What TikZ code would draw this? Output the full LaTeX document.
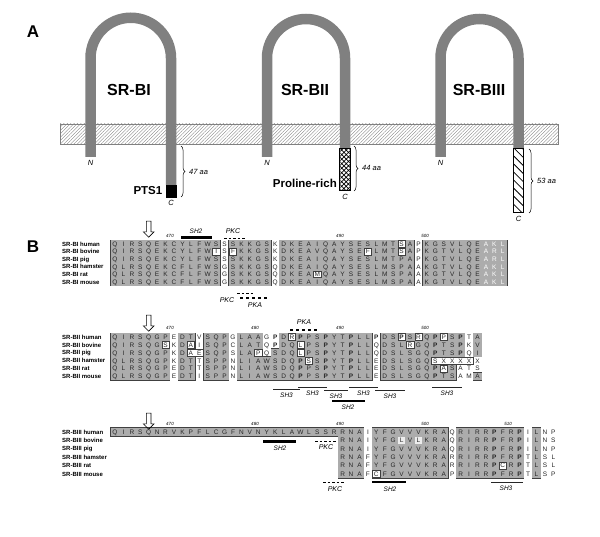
\documentclass[tikz,border=0pt]{standalone}
\usepackage{fontspec}
\setmainfont{Liberation Sans}
\usepackage{xcolor}
\usepackage{tikz}
\usetikzlibrary{positioning, patterns.meta, decorations.pathreplacing, shapes.arrows}

% one aligned row: name prefix, y, first column, residues
\newcommand{\seqrow}[4]{%
  \foreach \aa [count=\i from #3] in {#4}
    \node[res] (#1-\i) at ({106.57+8.43*\i}, #2) {\aa};}
% shaded blocks: y0, row step, list of col/col/row/row
\newcommand{\shadeblk}[3]{%
  \foreach \ca/\cb/\ra/\rb in {#3}
    \draw[blkline] ({102.36+8.43*\ca}, {#1+(\ra-1.5)*#2}) rectangle ({110.78+8.43*\cb}, {#1+(\rb-0.5)*#2});
  \foreach \ca/\cb/\ra/\rb in {#3}
    \fill[blkfill] ({102.36+8.43*\ca}, {#1+(\ra-1.5)*#2}) rectangle ({110.78+8.43*\cb}, {#1+(\rb-0.5)*#2});}
% boxed residues: y0, row step, list of col/col/row
\newcommand{\whitecells}[3]{%
  \foreach \ca/\cb/\ra in {#3}
    \draw[wbox] ({102.86+8.43*\ca}, {#1+(\ra-1.5)*#2+0.5}) rectangle ({110.28+8.43*\cb}, {#1+(\ra-0.5)*#2-0.5});}
\newcommand{\bP}{\textbf{P}}
\newcommand{\wt}[1]{\textcolor{white}{#1}}

\begin{document}
\begin{tikzpicture}[x=1pt, y=-1pt,
  every node/.style={inner sep=0pt},
  res/.style={font=\fontsize{6.5}{7}\selectfont, text=black!85, text height=4.6pt, text depth=0pt},
  lab/.style={font=\fontsize{6}{7}\selectfont\bfseries, anchor=west, text height=4.3pt, text depth=0pt},
  big/.style={font=\fontsize{16}{18}\selectfont\bfseries},
  panel/.style={font=\fontsize{17}{19}\selectfont\bfseries},
  tag/.style={font=\fontsize{11.5}{13}\selectfont\bfseries},
  it/.style={font=\fontsize{7.5}{9}\selectfont\itshape},
  num/.style={font=\fontsize{4.5}{5}\selectfont\itshape},
  site/.style={font=\fontsize{7}{8}\selectfont\itshape},
  dom/.style={font=\fontsize{6.5}{7}\selectfont\itshape},
  hairpin/.style={draw=gray, line width=10.5pt},
  tailbox/.style={draw, line width=1pt, minimum width=10.5pt},
  bracel/.style={decorate, decoration={brace, amplitude=4pt}, line width=0.5pt},
  hollow/.style={single arrow, draw, line width=0.6pt, minimum height=16pt, minimum width=10pt, single arrow head extend=3pt, inner sep=2pt, rotate=-90},
  blkline/.style={draw=black!75, line width=0.9pt},
  blkfill/.style={fill=gray!65},
  wbox/.style={draw=black!75, fill=white, line width=0.5pt},
  thickbar/.style={line width=2.2pt},
  thinbar/.style={line width=0.9pt, black!85},
  pkc/.style={line width=0.9pt, dash pattern=on 2.5pt off 2pt},
  pka/.style={line width=2.2pt, dash pattern=on 3pt off 3pt}
]
  \useasboundingbox (0,0) rectangle (600,537);

  % ---- A: membrane topology
  \node[panel] (pA) at (33,32) {A};
  \fill[pattern={Lines[angle=45, distance=2.4pt, line width=0.35pt]}, pattern color=gray] (60,124) rectangle (558,144);
  \draw[gray, line width=0.4pt] (60,124) rectangle (558,144);

  \draw[hairpin] (90.5,157) -- (90.5,58) arc[start angle=180, end angle=360, radius=40.25] -- (171,185);
  \draw[hairpin] (267,157) -- (267,58) arc[start angle=180, end angle=360, radius=39] -- (345,149);
  \draw[hairpin] (440.5,157) -- (440.5,58) arc[start angle=180, end angle=360, radius=39] -- (518.5,149);

  \node[big] (lblI) at (129,90) {SR-BI};
  \node[big] (lblII) at (305,90) {SR-BII};
  \node[big] (lblIII) at (479,90) {SR-BIII};

  \node[tailbox, fill=black, line width=0.5pt, minimum height=12pt] (pts1box) at (171,191) {};
  \node[tailbox, minimum height=42pt, pattern={Hatch[angle=45, distance=3.2pt, line width=0.7pt]}] (prbox) at (345,170) {};
  \node[tailbox, minimum height=64pt, pattern={Lines[angle=-45, distance=5.7pt, line width=0.8pt]}] (hatbox) at (518.5,181) {};

  \node[tag, left=3pt of pts1box] (pts) {PTS1};
  \node[tag, anchor=east] (prl) at (337,183) {Proline-rich};

  \node[it] (nI) at (90.5,163) {N};
  \node[it] (nII) at (267,163) {N};
  \node[it] (nIII) at (440.5,163) {N};
  \node[it, below=3pt of pts1box] (cI) {C};
  \node[it, below=3pt of prbox] (cII) {C};
  \node[it, below=3pt of hatbox] (cIII) {C};

  \draw[bracel] (181,146) -- (181,197);
  \draw[bracel] (354,146) -- (354,191);
  \draw[bracel] (529,149) -- (529,213);
  \node[it, anchor=west] (aaI) at (189,172) {47 aa};
  \node[it, anchor=west] (aaII) at (362,168) {44 aa};
  \node[it, anchor=west] (aaIII) at (537,181) {53 aa};

  % ---- B: SR-BI alignment
  \node[panel] (pB) at (33,247) {B};
  \shadeblk{244}{7.6}{1/13/1/6, 15/19/1/6, 21/36/1/6, 38/47/1/6}
  \whitecells{244}{7.6}{13/13/2, 15/15/2, 25/25/5, 31/31/2, 35/35/1, 35/35/2}
  \foreach \sp [count=\r] in {human,bovine,pig,hamster,rat,mouse}
    \node[lab] (nmI-\r) at (62, {244+(\r-1)*7.6}) {SR-BI \sp};
  \seqrow{bi1}{244}{1}{Q,I,R,S,Q,E,K,C,Y,L,F,W,S,S,S,K,K,G,S,K,D,K,E,A,I,Q,A,Y,S,E,S,L,M,T,S,A,P,K,G,S,V,L,Q,E,\wt{A},\wt{K},\wt{L}}
  \seqrow{bi2}{251.6}{1}{Q,I,R,S,Q,E,K,C,Y,L,F,W,I,S,F,K,K,G,S,K,D,K,E,A,V,Q,A,Y,S,E,F,L,M,T,S,A,P,K,G,T,V,L,Q,E,\wt{A},\wt{R},\wt{L}}
  \seqrow{bi3}{259.2}{1}{Q,I,R,S,Q,E,K,C,Y,L,F,W,S,S,S,K,K,G,S,K,D,K,E,A,I,Q,A,Y,S,E,S,L,M,T,P,A,P,K,G,T,V,L,Q,E,\wt{A},\wt{R},\wt{L}}
  \seqrow{bi4}{266.8}{1}{Q,L,R,S,Q,E,K,C,F,L,F,W,S,G,S,K,K,G,S,Q,D,K,E,A,I,Q,A,Y,S,E,S,L,M,S,P,A,A,K,G,T,V,L,Q,E,\wt{A},\wt{K},\wt{L}}
  \seqrow{bi5}{274.4}{1}{Q,L,R,S,Q,E,K,C,F,L,F,W,S,G,S,K,K,G,S,Q,D,K,E,A,M,Q,A,Y,S,E,S,L,M,S,P,A,A,K,G,T,V,L,Q,E,\wt{A},\wt{K},\wt{L}}
  \seqrow{bi6}{282}{1}{Q,L,R,S,Q,E,K,C,F,L,F,W,S,G,S,K,K,G,S,Q,D,K,E,A,I,Q,A,Y,S,E,S,L,M,S,P,A,A,K,G,T,V,L,Q,E,\wt{A},\wt{K},\wt{L}}

  \node[hollow] (arrI) at (148.7,228) {};
  \foreach \x/\n in {170/470, 340/490, 425/500}
    \node[num] (nbI-\n) at (\x,236) {\n};
  \draw[thickbar] (181,237.5) -- (212,237.5);
  \node[dom] (sh2I) at (196,231) {SH2};
  \draw[pkc] (224,238) -- (245,238);
  \node[site] (pkcIa) at (233,231.5) {PKC};
  \draw[pkc] (237,293) -- (254,293);
  \draw[pka] (240,298) -- (268,298);
  \node[site] (pkcIb) at (227,300) {PKC};
  \node[site] (pkaI) at (255,305) {PKA};

  % ---- SR-BII alignment
  \shadeblk{337}{7.9}{1/7/1/6, 9/10/1/6, 12/14/1/6, 16/18/1/6, 19/19/4/6, 20/20/3/6, 21/31/1/6, 33/42/1/3, 33/41/4/6, 44/44/1/3, 44/44/6/6}
  \whitecells{337}{7.9}{7/7/2, 10/10/2, 10/11/3, 18/18/3, 22/22/1, 23/23/2, 23/23/3, 24/24/4, 35/35/1, 37/37/1, 40/40/1, 36/36/2, 39/43/4, 40/40/5}
  \foreach \sp [count=\r] in {human,bovine,pig,hamster,rat,mouse}
    \node[lab] (nmII-\r) at (62, {337+(\r-1)*7.9}) {SR-BII \sp};
  \seqrow{bii1}{337}{1}{Q,I,R,S,Q,G,P,E,D,T,V,S,Q,P,G,L,A,A,G,\bP,D,R,\bP,P,S,\bP,Y,T,\bP,L,L,\bP,D,S,\bP,S,R,Q,\bP,P,S,\bP,T,A}
  \seqrow{bii2}{344.9}{1}{Q,I,R,S,Q,G,S,K,D,A,I,S,Q,P,C,L,A,T,Q,\bP,D,Q,L,P,S,\bP,Y,T,\bP,L,L,Q,D,S,L,R,G,Q,\bP,T,S,\bP,K,V}
  \seqrow{bii3}{352.8}{1}{Q,I,R,S,Q,G,P,K,D,A,E,S,Q,P,S,L,A,P,Q,S,D,Q,L,P,S,\bP,Y,T,\bP,L,L,Q,D,S,L,S,G,Q,\bP,T,S,\bP,Q,I}
  \seqrow{bii4}{360.7}{1}{Q,L,R,S,Q,G,P,K,D,T,T,S,P,P,N,L,I,A,W,S,D,Q,\bP,S,S,\bP,Y,T,\bP,L,L,E,D,S,L,S,G,Q,S,X,X,X,X,X}
  \seqrow{bii5}{368.6}{1}{Q,L,R,S,Q,G,P,E,D,T,T,S,P,P,N,L,I,A,W,S,D,Q,\bP,P,S,\bP,Y,T,\bP,L,L,E,D,S,L,S,G,Q,\bP,A,S,A,T,S}
  \seqrow{bii6}{376.5}{1}{Q,L,R,S,Q,G,P,E,D,T,I,S,P,P,N,L,I,A,W,S,D,Q,\bP,P,S,\bP,Y,T,\bP,L,L,E,D,S,L,S,G,Q,\bP,T,S,A,M,A}

  \node[hollow] (arrII) at (148.7,322) {};
  \foreach \x/\n in {170/470, 255/480, 340/490, 425/500}
    \node[num] (nbII-\n) at (\x,328) {\n};
  \draw[pka] (290,330) -- (318,330);
  \node[site] (pkaII) at (304,322) {PKA};
  \foreach \xa/\xb/\yb [count=\k] in {273/300/389.5, 298/327/387, 324/348/390, 349/378/387, 375/405/390, 432/462/387} {
    \draw[thinbar] (\xa,\yb) -- (\xb,\yb);
    \node[dom] (sh3II-\k) at ({(\xa+\xb)/2}, \yb+6) {SH3};
  }
  \draw[thickbar] (332,401) -- (365,401);
  \node[dom] (sh2II) at (348,407) {SH2};

  % ---- SR-BIII alignment
  \shadeblk{432}{8.4}{1/30/1/1, 28/30/2/6, 32/40/1/6, 42/49/1/6, 51/51/1/6}
  \whitecells{432}{8.4}{32/32/6, 47/47/5}
  \foreach \ca in {35,37}
    \fill[gray!15] ({103.36+8.43*\ca}, 437.2) rectangle ({109.78+8.43*\ca}, 443.6);
  \foreach \sp [count=\r] in {human,bovine,pig,hamster,rat,mouse}
    \node[lab] (nmIII-\r) at (62, {432+(\r-1)*8.4}) {SR-BIII \sp};
  \seqrow{biii1}{432}{1}{Q,I,R,S,Q,N,R,V,K,P,F,L,C,G,F,N,V,N,Y,K,L,A,W,L,S,S,R,R,N,A,I,Y,F,G,V,V,V,K,R,A,Q,R,I,R,R,\bP,F,R,\bP,I,L,N,P}
  \seqrow{biii2}{440.4}{28}{R,N,A,I,Y,F,G,L,V,L,K,R,A,Q,R,I,R,R,\bP,F,R,\bP,I,L,N,S}
  \seqrow{biii3}{448.8}{28}{R,N,A,I,Y,F,G,V,V,V,K,R,A,Q,R,I,R,R,\bP,F,R,\bP,I,L,N,P}
  \seqrow{biii4}{457.2}{28}{R,N,A,F,Y,F,G,V,V,V,K,R,A,R,R,I,R,R,\bP,F,R,\bP,T,L,S,L}
  \seqrow{biii5}{465.6}{28}{R,N,A,F,Y,F,G,V,V,V,K,R,A,R,R,I,R,R,\bP,C,R,\bP,T,L,S,L}
  \seqrow{biii6}{474}{28}{R,N,A,F,C,F,G,V,V,V,K,R,A,P,R,I,R,R,\bP,F,R,\bP,T,L,S,P}

  \node[hollow] (arrIII) at (148.7,420) {};
  \foreach \x/\n in {170/470, 255/480, 340/490, 425/500, 508/510}
    \node[num] (nbIII-\n) at (\x,424) {\n};
  \draw[thickbar] (263,441.5) -- (296,441.5);
  \node[dom] (sh2IIIa) at (280,448) {SH2};
  \draw[pkc] (315,441) -- (337,441);
  \node[site] (pkcIIIa) at (326,447.5) {PKC};
  \draw[pkc] (323,482) -- (345,482);
  \node[site] (pkcIIIb) at (335,489) {PKC};
  \draw[thickbar] (372,482) -- (406,482);
  \node[dom] (sh2IIIb) at (390,489) {SH2};
  \draw[thinbar] (491,482) -- (523,482);
  \node[dom] (sh3III) at (506,488.5) {SH3};
\end{tikzpicture}
\end{document}
